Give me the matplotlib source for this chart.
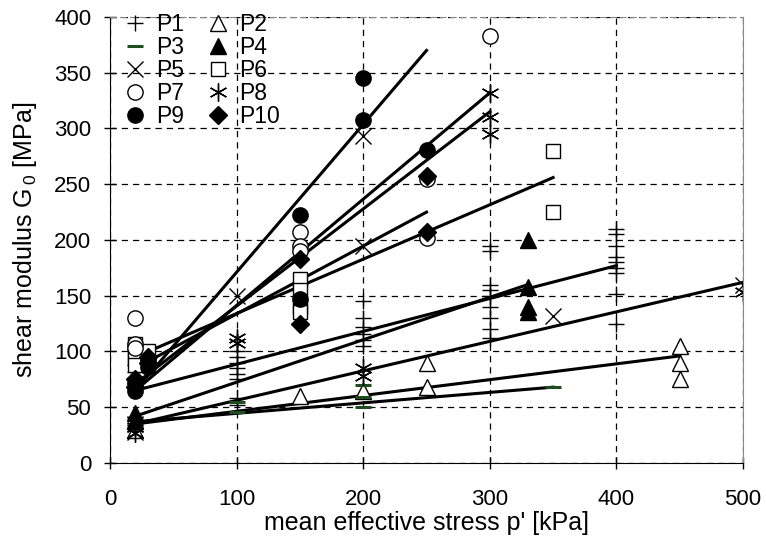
import numpy as np
import matplotlib
matplotlib.use('Agg')
import matplotlib.pyplot as plt

plt.rcParams['font.family'] = ['Liberation Sans', 'DejaVu Sans']
plt.rcParams['mathtext.fontset'] = 'custom'
plt.rcParams['mathtext.rm'] = 'Liberation Sans'
plt.rcParams['mathtext.default'] = 'regular'

# measured points, per sample (p' kPa, G0 MPa)
p1_x = [20, 20, 20, 20, 20, 100, 100, 100, 100, 100, 100, 100, 100,
        200, 200, 200, 200, 200, 200,
        300, 300, 300, 300, 300, 300, 300, 300, 300,
        400, 400, 400, 400, 400, 400, 400, 400, 400]
p1_y = [88, 82, 76, 72, 68, 100, 95, 90, 85, 80, 75, 58, 52,
        145, 130, 122, 116, 110, 105,
        195, 190, 160, 155, 150, 140, 130, 120, 112,
        210, 205, 195, 185, 180, 175, 170, 152, 125]
p2_x = [20, 20, 150, 200, 250, 250, 450, 450, 450]
p2_y = [38, 30, 60, 65, 90, 68, 105, 90, 75]
p3_x = [20, 20, 100, 100, 200, 200, 200, 350]
p3_y = [40, 33, 55, 46, 70, 59, 50, 68]
p4_x = [20, 20, 330, 330, 330, 330]
p4_y = [45, 38, 200, 158, 140, 135]
p5_x = [20, 20, 100, 200, 200, 350, 500]
p5_y = [35, 28, 150, 293, 195, 132, 160]
p6_x = [20, 20, 20, 20, 30, 150, 150, 150, 150, 350, 350]
p6_y = [107, 100, 93, 88, 100, 165, 155, 140, 135, 280, 225]
p7_x = [20, 20, 20, 150, 150, 150, 250, 250, 300]
p7_y = [130, 107, 103, 207, 195, 190, 255, 202, 383]
p8_x = [20, 20, 100, 100, 200, 200, 300, 300, 300, 500]
p8_y = [32, 27, 112, 108, 85, 78, 332, 310, 295, 153]
p9_x = [20, 20, 30, 30, 150, 150, 200, 200, 250]
p9_y = [72, 65, 92, 86, 222, 147, 345, 308, 281]
p10_x = [20, 20, 30, 30, 150, 150, 250, 250]
p10_y = [75, 68, 95, 90, 183, 125, 257, 207]

# fitted trend lines (start / end)
fit_x0 = [20, 20, 20, 20, 20, 20, 20, 20, 20, 20]
fit_x1 = [250, 300, 300, 350, 250, 400, 330, 500, 450, 350]
fit_y0 = [65, 65, 71, 95, 85, 65, 42, 35, 35, 37]
fit_y1 = [370, 332, 315, 256, 225, 177, 160, 162, 96, 68]

fig = plt.figure(figsize=(7.66, 5.45), dpi=100)
ax = fig.add_axes([0.1436, 0.1505, 0.8264, 0.8183])

for a, b, c, d in zip(fit_x0, fit_x1, fit_y0, fit_y1):
    ax.plot([a, b], [c, d], color='black', lw=2.2, zorder=2)

ax.plot(p1_x, p1_y, ls='none', marker='+', ms=12, mew=1, color='black', label='P1')
ax.plot(p2_x, p2_y, ls='none', marker='^', ms=11, mfc='white', mec='black', mew=1, label='P2')
ax.plot(p3_x, p3_y, ls='none', marker='_', ms=12, mew=2.2, color='#1e4d1e', label='P3')
ax.plot(p4_x, p4_y, ls='none', marker='^', ms=11, color='black', label='P4')
ax.plot(p5_x, p5_y, ls='none', marker='x', ms=11, mew=1, color='black', label='P5')
ax.plot(p6_x, p6_y, ls='none', marker='s', ms=10, mfc='white', mec='black', mew=1, label='P6')
ax.plot(p7_x, p7_y, ls='none', marker='o', ms=11, mfc='white', mec='black', mew=1, label='P7')
ax.plot(p8_x, p8_y, ls='none', marker=(6, 2, 0), ms=13, mew=1, color='black', label='P8')
ax.plot(p9_x, p9_y, ls='none', marker='o', ms=11, color='black', label='P9')
ax.plot(p10_x, p10_y, ls='none', marker='D', ms=9, color='black', label='P10')

ax.set_xlim(0, 500)
ax.set_ylim(0, 400)
ax.set_xticks(np.arange(0, 501, 100))
ax.set_yticks(np.arange(0, 401, 50))
ax.grid(True, color='black', ls=(0, (5, 4)), lw=0.9)
ax.set_axisbelow(True)

ax.spines['top'].set_linestyle((0, (5, 4)))
ax.spines['top'].set_color('#888888')
ax.spines['right'].set_color('#888888')
ax.tick_params(direction='inout', length=9, width=1, labelsize=16)
ax.tick_params(axis='y', pad=9)
ax.tick_params(axis='x', pad=14)
ax.tick_params(top=False, right=False)

ax.set_xlabel("mean effective stress p' [kPa]", fontsize=18)
ax.set_ylabel('shear modulus G$_{\\,0}$ [MPa]', fontsize=18)
ax.xaxis.set_label_coords(0.5, -0.108)
ax.yaxis.set_label_coords(-0.112, 0.5)

# legend filled row by row: P1 P2 / P3 P4 / ...
h, l = ax.get_legend_handles_labels()
order = [0, 2, 4, 6, 8, 1, 3, 5, 7, 9]
ax.legend([h[i] for i in order], [l[i] for i in order],
          loc='upper left', ncol=2, frameon=False, fontsize=16.5,
          bbox_to_anchor=(0.0, 1.04), handlelength=1.0, handletextpad=0.4,
          columnspacing=1.0, labelspacing=0.0, borderaxespad=0.2)

fig.savefig('out.png', dpi=100)
